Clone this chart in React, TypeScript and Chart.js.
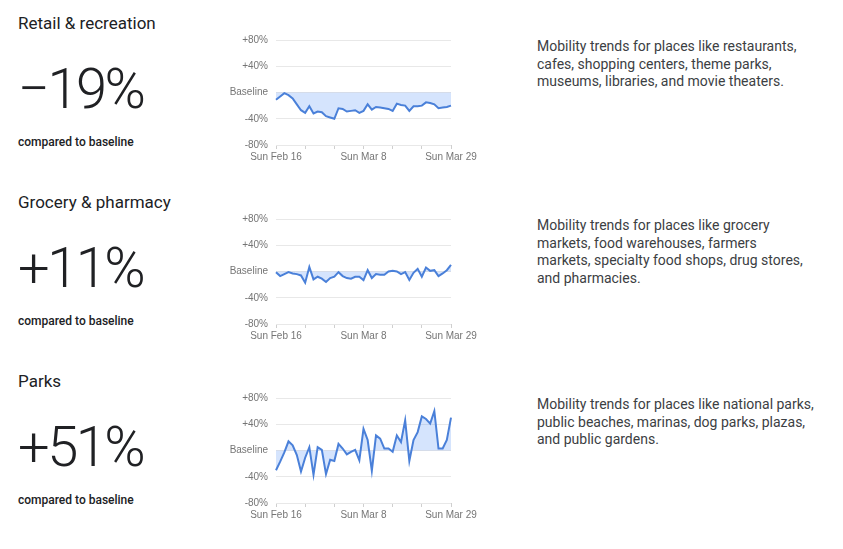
import React, { useEffect, useRef } from "react";
import { Chart, registerables } from "chart.js";

Chart.register(...registerables);

const DATES = [
  "Sun Feb 16", "Mon Feb 17", "Tue Feb 18", "Wed Feb 19", "Thu Feb 20", "Fri Feb 21", "Sat Feb 22",
  "Sun Feb 23", "Mon Feb 24", "Tue Feb 25", "Wed Feb 26", "Thu Feb 27", "Fri Feb 28", "Sat Feb 29",
  "Sun Mar 1", "Mon Mar 2", "Tue Mar 3", "Wed Mar 4", "Thu Mar 5", "Fri Mar 6", "Sat Mar 7",
  "Sun Mar 8", "Mon Mar 9", "Tue Mar 10", "Wed Mar 11", "Thu Mar 12", "Fri Mar 13", "Sat Mar 14",
  "Sun Mar 15", "Mon Mar 16", "Tue Mar 17", "Wed Mar 18", "Thu Mar 19", "Fri Mar 20", "Sat Mar 21",
  "Sun Mar 22", "Mon Mar 23", "Tue Mar 24", "Wed Mar 25", "Thu Mar 26", "Fri Mar 27", "Sat Mar 28",
  "Sun Mar 29",
];
const X_TICK_LABELS = ["Sun Feb 16", "Sun Mar 8", "Sun Mar 29"];
const Y_MIN = -80;
const Y_MAX = 80;
const Y_STEP = 40;

const RETAIL = [
  -11, -6, -1, -4, -9, -18, -27, -31, -21, -32, -29, -30, -36, -38, -40,
  -24, -25, -29, -28, -27, -31, -28, -18, -26, -22, -23, -24, -25, -28,
  -17, -19, -20, -28, -21, -21, -20, -15, -16, -18, -24, -23, -22, -20,
];
const GROCERY = [
  -1, -7, -4, -1, -3, -4, -6, -17, 7, -12, -8, -11, -16, -10, -8,
  -1, -7, -10, -11, -8, -8, -13, 2, -10, -4, -5, -5, 0, 1,
  0, -4, -1, -13, -2, 4, -8, 6, 1, 2, -7, -3, 2, 10,
];
const PARKS = [
  -30, -17, -3, 14, 8, -7, -32, -11, 5, -37, 5, 1, -36, -14, -16,
  10, 3, -6, -2, 1, -15, 33, 16, -31, 23, 18, 3, 3, -2,
  23, 13, 46, -16, 16, 28, 52, 48, 41, 60, 3, 3, 16, 50,
];

const TITLES = ["Retail & recreation", "Grocery & pharmacy", "Parks"];
const HEADLINES = ["\u221219%", "+11%", "+51%"];
const SERIES = [RETAIL, GROCERY, PARKS];
const DESCRIPTIONS = [
  [
    "Mobility trends for places like restaurants,",
    "cafes, shopping centers, theme parks,",
    "museums, libraries, and movie theaters.",
  ],
  [
    "Mobility trends for places like grocery",
    "markets, food warehouses, farmers",
    "markets, specialty food shops, drug stores,",
    "and pharmacies.",
  ],
  [
    "Mobility trends for places like national parks,",
    "public beaches, marinas, dog parks, plazas,",
    "and public gardens.",
  ],
];

const ROW_GAP = 179;
const TEXT_COLOR = "#202124";
const AXIS_COLOR = "#757575";
const GRID_COLOR = "#e8e8e8";

function MiniChart({ values, top }: { values: number[]; top: number }) {
  const ref = useRef<HTMLCanvasElement | null>(null);
  useEffect(() => {
    if (!ref.current) return;
    const chart = new Chart(ref.current, {
      type: "line",
      data: {
        labels: DATES,
        datasets: [
          {
            data: values,
            borderColor: "#4a80d9",
            borderWidth: 2,
            backgroundColor: "rgba(66,133,244,0.22)",
            fill: { value: 0 },
            pointRadius: 0,
            tension: 0,
          },
        ],
      },
      options: {
        responsive: false,
        animation: false,
        devicePixelRatio: 1,
        layout: { padding: { top: 9, right: 34, left: 0, bottom: 0 } },
        plugins: { legend: { display: false }, tooltip: { enabled: false } },
        scales: {
          x: {
            type: "category",
            border: { display: false },
            grid: {
              drawOnChartArea: false,
              drawTicks: true,
              tickLength: 4,
              color: (ctx: any) => (ctx.index % 7 === 0 ? "#cfcfcf" : "rgba(0,0,0,0)"),
            },
            ticks: {
              autoSkip: false,
              maxRotation: 0,
              padding: 2,
              color: AXIS_COLOR,
              font: { family: "'Liberation Sans', Arial, sans-serif", size: 10 },
              callback: (_v: any, i: number) =>
                X_TICK_LABELS.includes(DATES[i]) ? DATES[i] : "",
            },
            afterFit: (s: any) => {
              s.height = 20;
            },
          },
          y: {
            min: Y_MIN,
            max: Y_MAX,
            border: { display: false },
            grid: { drawTicks: false, color: GRID_COLOR, lineWidth: 1 },
            ticks: {
              stepSize: Y_STEP,
              padding: 8,
              color: AXIS_COLOR,
              font: { family: "'Liberation Sans', Arial, sans-serif", size: 10 },
              callback: (v: any) =>
                v === 0 ? "Baseline" : (v > 0 ? "+" : "") + v + "%",
            },
            afterFit: (s: any) => {
              s.width = 56;
            },
          },
        },
      },
    });
    return () => chart.destroy();
  }, [values]);
  return (
    <canvas
      ref={ref}
      width={265}
      height={139}
      style={{ position: "absolute", left: 220, top, width: 265, height: 139 }}
    />
  );
}

export default function App() {
  return (
    <div
      style={{
        position: "absolute",
        left: 0,
        top: 0,
        width: 843,
        height: 549,
        background: "#ffffff",
        fontFamily: "Roboto, 'Noto Sans', sans-serif",
        color: TEXT_COLOR,
        overflow: "hidden",
      }}
    >
      {TITLES.map((title, i) => {
        const off = i * ROW_GAP;
        return (
          <React.Fragment key={title}>
            <div
              style={{
                position: "absolute",
                left: 18,
                top: 13 + off,
                fontSize: 17,
                lineHeight: "20px",
                whiteSpace: "nowrap",
              }}
            >
              {title}
            </div>
            <div
              style={{
                position: "absolute",
                left: 18,
                top: 61 + off,
                fontSize: 56,
                lineHeight: "56px",
                fontWeight: 300,
                letterSpacing: -2.5,
                whiteSpace: "nowrap",
              }}
            >
              {HEADLINES[i]}
            </div>
            <div
              style={{
                position: "absolute",
                left: 18,
                top: 135 + off,
                fontSize: 12,
                lineHeight: "14px",
                fontWeight: 500,
                whiteSpace: "nowrap",
              }}
            >
              compared to baseline
            </div>
            <MiniChart values={SERIES[i]} top={26 + off} />
            <div
              style={{
                position: "absolute",
                left: 537,
                top: 38 + off,
                fontSize: 14,
                lineHeight: "17.5px",
                color: "#3c4043",
                whiteSpace: "nowrap",
              }}
            >
              {DESCRIPTIONS[i].map((line) => (
                <div key={line}>{line}</div>
              ))}
            </div>
          </React.Fragment>
        );
      })}
    </div>
  );
}
